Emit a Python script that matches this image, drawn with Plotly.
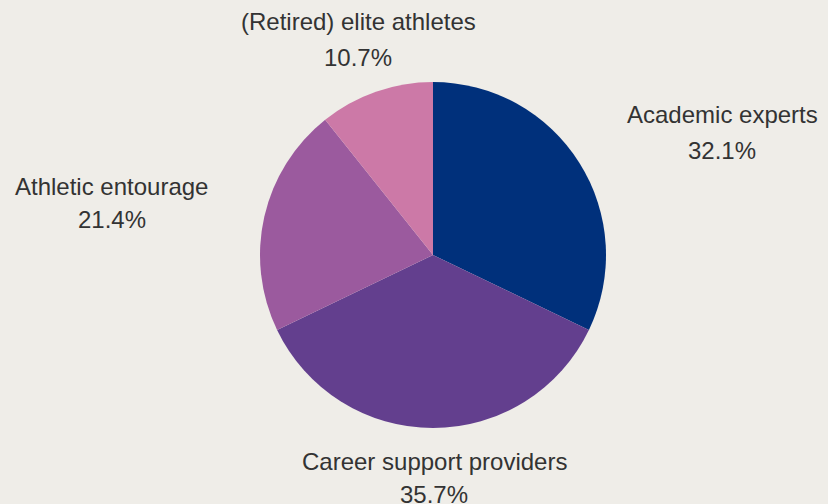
import plotly.graph_objects as go

categories = ["Academic experts", "Career support providers", "Athletic entourage", "(Retired) elite athletes"]
shares = [32.1, 35.7, 21.4, 10.7]
colors = ["#00307b", "#633f8e", "#9b5a9e", "#cc79a7"]

# label anchor positions in paper coords (label line, percent line)
label_pos = [(722, 115, 150), (434, 461, 494), (112, 186, 219), (358, 22, 57)]

W, H = 828, 504
fig = go.Figure(go.Pie(
    labels=categories, values=shares, sort=False, direction="clockwise", rotation=0,
    marker=dict(colors=colors, line=dict(width=0)),
    textinfo="none", hoverinfo="label+percent", showlegend=False,
    domain=dict(x=[(433 - 173) / W, (433 + 173) / W], y=[(H - 255 - 173) / H, (H - 255 + 173) / H]),
))

font = dict(family="Liberation Sans, Arial, sans-serif", size=24, color="#333333")
anns = []
for cat, val, (x, y1, y2) in zip(categories, shares, label_pos):
    anns.append(dict(text=cat, x=x / W, y=1 - y1 / H, xref="paper", yref="paper",
                     showarrow=False, xanchor="center", yanchor="middle", font=font))
    anns.append(dict(text=f"{val:.1f}%", x=x / W, y=1 - y2 / H, xref="paper", yref="paper",
                     showarrow=False, xanchor="center", yanchor="middle", font=font))

fig.update_layout(width=W, height=H, margin=dict(l=0, r=0, t=0, b=0),
                  paper_bgcolor="#efede8", plot_bgcolor="#efede8", annotations=anns)
fig.write_html("out.html")
